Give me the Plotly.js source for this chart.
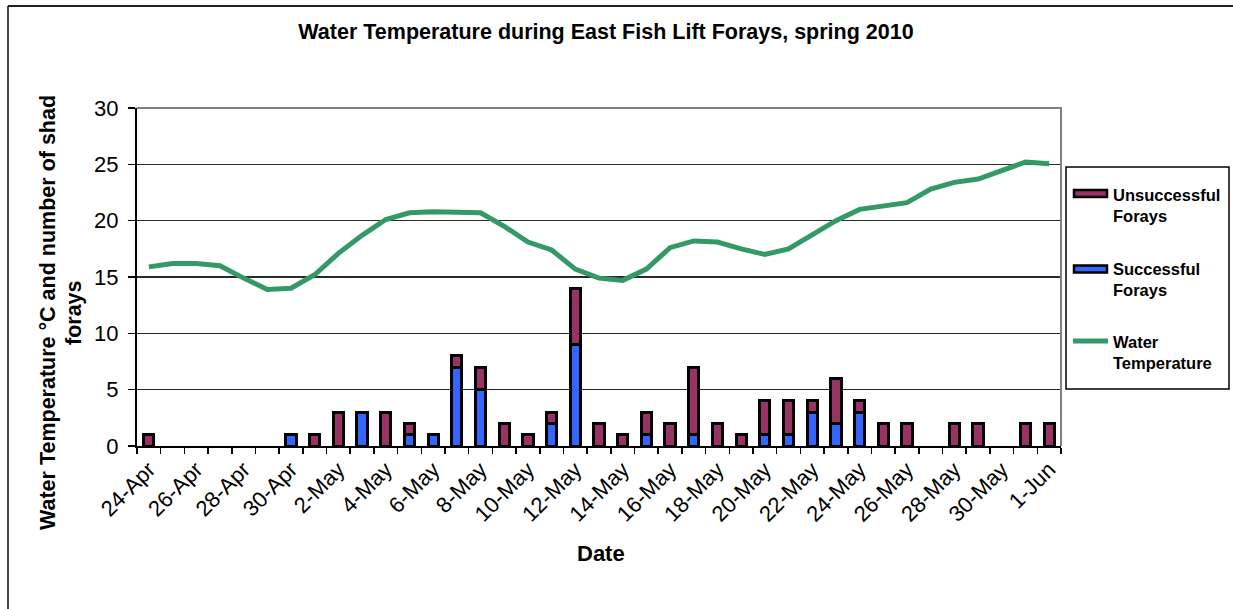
<!DOCTYPE html>
<html>
<head>
<meta charset="utf-8">
<script src="https://cdn.plot.ly/plotly-3.0.1.min.js"></script>
<style>html,body{margin:0;padding:0;background:#fff;}#chart{width:1233px;height:609px;}</style>
</head>
<body>
<div id="chart"></div>
<script>
const dates = ['24-Apr','25-Apr','26-Apr','27-Apr','28-Apr','29-Apr','30-Apr',
  '1-May','2-May','3-May','4-May','5-May','6-May','7-May','8-May','9-May','10-May',
  '11-May','12-May','13-May','14-May','15-May','16-May','17-May','18-May','19-May','20-May',
  '21-May','22-May','23-May','24-May','25-May','26-May','27-May','28-May','29-May','30-May',
  '31-May','1-Jun'];
const successful = [0,0,0,0,0,0,1, 0,0,3,0,1,1,7,5,0,0, 2,9,0,0,1,0,1,0,0,1, 1,3,2,3,0,0,0,0,0,0, 0,0];
const unsuccessful = [1,0,0,0,0,0,0, 1,3,0,3,1,0,1,2,2,1, 1,5,2,1,2,2,6,2,1,3, 3,1,4,1,2,2,0,2,2,0, 2,2];
const waterTemp = [15.9,16.2,16.2,16.0,14.9,13.9,14.0, 15.2,17.1,18.7,20.1,20.7,20.8,20.8,20.7,19.5,18.1,
  17.4,15.7,14.9,14.7,15.7,17.6,18.2,18.1,17.5,17.0, 17.5,18.7,20.0,21.0,21.3,21.6,22.8,23.4,23.7,24.5,
  25.2,25.05];
const tickLabels = dates.map((d, i) => i % 2 === 0 ? d : '');
const seriesNames = ['Unsuccessful<br>Forays', 'Successful<br>Forays', 'Water<br>Temperature'];
const yTitleLines = ['Water Temperature °C and number of shad', 'forays'];

const PURPLE = '#993366', BLUE = '#3366FF', GREEN = '#339966';
const FONT = 'Arial, "Liberation Sans", sans-serif';

// plot-area pixel geometry -> paper coords helpers
const L = 137, R = 1061, T = 108, B = 446;
const px = x => (x - L) / (R - L);
const py = y => (B - y) / (B - T);

const nz = a => a.map(v => v === 0 ? null : v);

const traces = [
  {type: 'bar', name: 'Successful Forays', x: dates, y: nz(successful),
   marker: {color: BLUE, line: {color: '#000', width: 3}}, showlegend: false},
  {type: 'bar', name: 'Unsuccessful Forays', x: dates, y: nz(unsuccessful),
   marker: {color: PURPLE, line: {color: '#000', width: 3}}, showlegend: false},
  {type: 'scatter', mode: 'lines', name: 'Water Temperature', x: dates, y: waterTemp,
   line: {color: GREEN, width: 5}, showlegend: false}
];

const shapes = [
  // outer chart frame (left and top)
  {type: 'line', xref: 'paper', yref: 'paper', x0: px(8), x1: px(8), y0: py(6), y1: py(612), line: {color: '#444', width: 2}},
  {type: 'line', xref: 'paper', yref: 'paper', x0: px(8), x1: px(1236), y0: py(6), y1: py(6), line: {color: '#222', width: 2}},
  // plot area border top/right (gray)
  {type: 'path', xref: 'paper', yref: 'paper', path: 'M0,1 L1,1 L1,0', line: {color: '#808080', width: 2}},
  // legend box
  {type: 'rect', xref: 'paper', yref: 'paper', x0: px(1066), x1: px(1229), y0: py(167), y1: py(389), line: {color: '#000', width: 1.5}, fillcolor: 'rgba(0,0,0,0)'},
  // legend symbols
  {type: 'rect', xref: 'paper', yref: 'paper', x0: px(1074), x1: px(1107), y0: py(190), y1: py(197), fillcolor: PURPLE, line: {color: '#000', width: 2.5}},
  {type: 'rect', xref: 'paper', yref: 'paper', x0: px(1074), x1: px(1107), y0: py(265.5), y1: py(272.5), fillcolor: BLUE, line: {color: '#000', width: 2.5}},
  {type: 'line', xref: 'paper', yref: 'paper', x0: px(1073), x1: px(1108), y0: py(341), y1: py(341), line: {color: GREEN, width: 5}}
];

const legendY = [205, 279, 352];
const yTitleX = [48, 74];
const annotations = yTitleLines.map((t, i) => ({
  xref: 'paper', yref: 'paper', x: px(yTitleX[i]), y: py(313), textangle: -90, showarrow: false,
  text: t, xanchor: 'center', yanchor: 'middle',
  font: {family: FONT, size: 21.5, color: '#000', weight: 'bold'}
})).concat([
  {xref: 'paper', yref: 'paper', x: px(601), y: py(553), showarrow: false, text: 'Date',
   xanchor: 'center', yanchor: 'middle', font: {family: FONT, size: 22, color: '#000', weight: 'bold'}}
]).concat(seriesNames.map((t, i) => ({
  xref: 'paper', yref: 'paper', x: px(1111), y: py(legendY[i]), showarrow: false, text: t,
  align: 'left', xanchor: 'left', yanchor: 'middle',
  font: {family: FONT, size: 16.5, color: '#000', weight: 'bold'}
})));

const layout = {
  width: 1233, height: 609,
  margin: {l: L, r: 1233 - R, t: T, b: 609 - B, pad: 0},
  paper_bgcolor: '#fff', plot_bgcolor: '#fff',
  barmode: 'stack', bargap: 0.57,
  showlegend: false,
  font: {family: FONT, color: '#000'},
  title: {text: 'Water Temperature during East Fish Lift Forays, spring 2010',
    x: 606 / 1233, xanchor: 'center', y: 1 - 31 / 609, yanchor: 'middle', yref: 'container',
    font: {family: FONT, size: 21.5, color: '#000', weight: 'bold'}},
  xaxis: {type: 'category', tickmode: 'array', tickvals: dates, ticktext: tickLabels,
    tickson: 'boundaries', ticks: 'outside', ticklen: 6, tickwidth: 1.5, tickcolor: '#000',
    tickangle: -45, tickfont: {family: FONT, size: 22, color: '#000'},
    showline: true, linecolor: '#000', linewidth: 2, showgrid: false, zeroline: false,
    range: [-0.5, dates.length - 0.5], fixedrange: true},
  yaxis: {range: [0, 30], dtick: 5, tick0: 0, ticks: 'outside', ticklen: 7, tickwidth: 1.5, tickcolor: '#000',
    tickfont: {family: FONT, size: 22, color: '#000'}, ticklabelstandoff: 5,
    showline: true, linecolor: '#000', linewidth: 2, showgrid: true, gridcolor: '#2a2a2a', gridwidth: 1.5,
    zeroline: false, fixedrange: true},
  shapes: shapes,
  annotations: annotations
};

Plotly.newPlot('chart', traces, layout, {displayModeBar: false, staticPlot: true});
</script>
</body>
</html>
